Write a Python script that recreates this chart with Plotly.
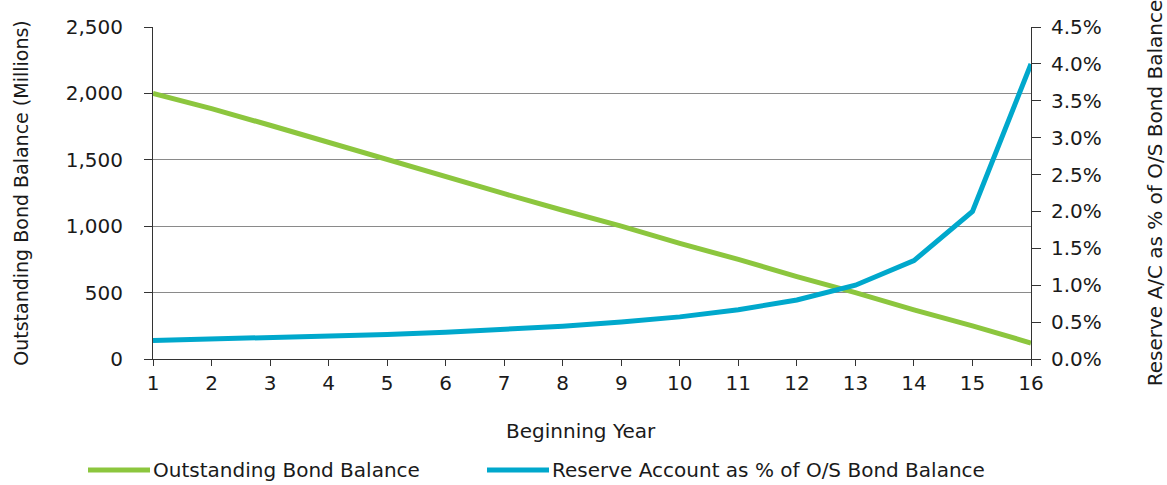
import plotly.graph_objects as go

# Beginning year of each period
years = list(range(1, 17))

# Outstanding bond balance, millions
bond_balance = [2000, 1885, 1760, 1630, 1500, 1375, 1245, 1120,
                1000, 870, 750, 620, 500, 370, 250, 120]

# Reserve account as % of outstanding bond balance
reserve_pct = [0.25, 0.267, 0.286, 0.308, 0.333, 0.364, 0.40, 0.444,
               0.50, 0.571, 0.667, 0.80, 1.00, 1.333, 2.00, 4.00]

left_ticks = [0, 500, 1000, 1500, 2000, 2500]
left_labels = ["0", "500", "1,000", "1,500", "2,000", "2,500"]
right_ticks = [0.0, 0.5, 1.0, 1.5, 2.0, 2.5, 3.0, 3.5, 4.0, 4.5]
right_labels = ["0.0%", "0.5%", "1.0%", "1.5%", "2.0%", "2.5%",
                "3.0%", "3.5%", "4.0%", "4.5%"]

GREEN = "#8cc63e"
BLUE = "#00a8cc"
FONT = "DejaVu Sans"
TXT = "#1a1a1a"

fig = go.Figure()
fig.add_trace(go.Scatter(x=years, y=bond_balance, mode="lines",
                         name="Outstanding Bond Balance",
                         line=dict(color=GREEN, width=5), yaxis="y"))
fig.add_trace(go.Scatter(x=years, y=reserve_pct, mode="lines",
                         name="Reserve Account as % of O/S Bond Balance",
                         line=dict(color=BLUE, width=5), yaxis="y2"))

tick_font = dict(family=FONT, size=20, color=TXT)
title_font = dict(family=FONT, size=20, color=TXT)
ytitle_font = dict(family=FONT, size=19, color=TXT)

fig.update_layout(
    width=1167, height=485,
    margin=dict(l=153, r=136, t=27, b=126, autoexpand=False),
    paper_bgcolor="white", plot_bgcolor="white",
    showlegend=False,
    font=tick_font,
    xaxis=dict(range=[1, 16], tickmode="array", tickvals=years,
               ticks="outside", ticklen=6, tickcolor="#333",
               showline=True, linecolor="#333", linewidth=1,
               showgrid=False, zeroline=False, automargin=False,
               tickfont=tick_font),
    yaxis=dict(range=[0, 2500], tickmode="array", tickvals=left_ticks,
               ticktext=left_labels, ticks="outside", ticklen=8,
               tickcolor="#333", showline=True, linecolor="#333",
               linewidth=1, showgrid=True, gridcolor="#8a8a8a",
               gridwidth=1, zeroline=False, tickfont=tick_font,
               ticklabelstandoff=17, automargin=False,
               title=dict(text="Outstanding Bond Balance (Millions)",
                          font=ytitle_font, standoff=32)),
    yaxis2=dict(range=[0, 4.5], overlaying="y", side="right",
                tickmode="array", tickvals=right_ticks,
                ticktext=right_labels,
                ticks="outside", ticklen=9, tickcolor="#333",
                showline=True, linecolor="#333", linewidth=1,
                showgrid=False, zeroline=False, tickfont=tick_font,
                ticklabelstandoff=6, automargin=False,
                title=dict(text="Reserve A/C as % of O/S Bond Balance",
                           font=title_font, standoff=50)),
    # inner half of the crossing ticks on the right axis
    yaxis3=dict(range=[0, 4.5], overlaying="y", side="right",
                tickmode="array", tickvals=right_ticks,
                ticks="inside", ticklen=9, tickcolor="#333",
                showticklabels=False, showline=False, showgrid=False,
                zeroline=False, automargin=False),
)

PX0, PX1, PY0, PY1 = 153, 1031, 27, 359


def px_x(px):
    return (px - PX0) / (PX1 - PX0)


def px_y(py):
    return (PY1 - py) / (PY1 - PY0)


# X axis title
fig.add_annotation(xref="paper", yref="paper", x=px_x(581), y=px_y(431),
                   xanchor="center", yanchor="middle", showarrow=False,
                   text="Beginning Year", font=title_font)

# Custom legend row below the axis title
legend_items = [
    (88, 150, GREEN, "Outstanding Bond Balance"),
    (487, 549, BLUE, "Reserve Account as % of O/S Bond Balance"),
]
for x0, x1, color, label in legend_items:
    fig.add_shape(type="line", xref="paper", yref="paper",
                  x0=px_x(x0), x1=px_x(x1), y0=px_y(470), y1=px_y(470),
                  line=dict(color=color, width=5))
    fig.add_annotation(xref="paper", yref="paper",
                       x=px_x(x1 + 1), y=px_y(470),
                       xanchor="left", yanchor="middle", showarrow=False,
                       text=label, font=tick_font)

fig.write_html("out.html")
